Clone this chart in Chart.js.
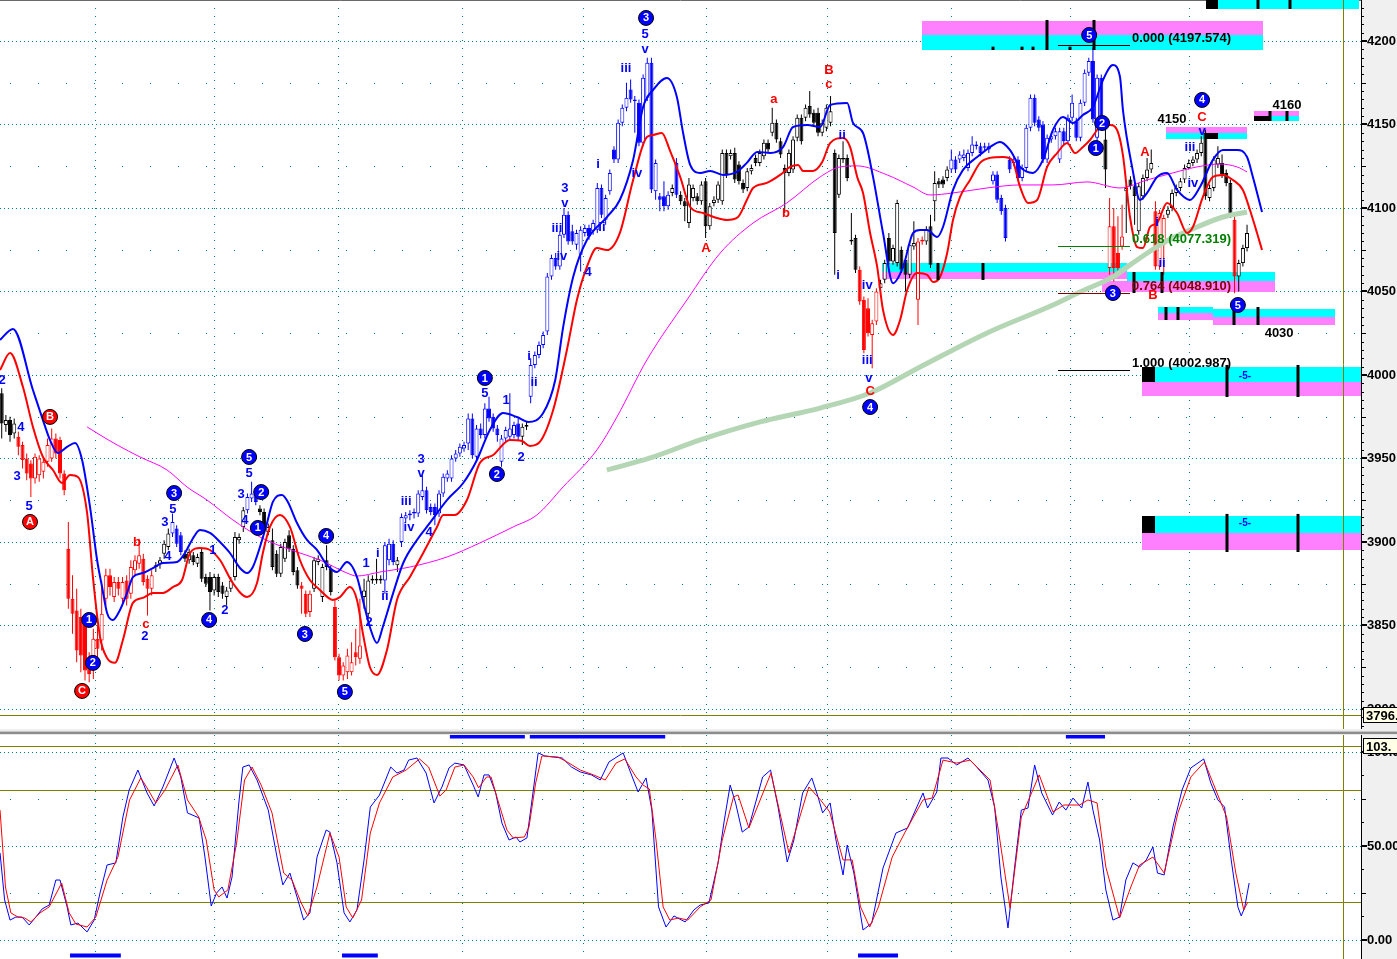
<!DOCTYPE html>
<html>
<head>
<meta charset="utf-8">
<script src="https://cdn.jsdelivr.net/npm/chart.js@4.4.0/dist/chart.umd.min.js"></script>
<style>
  html, body { margin: 0; padding: 0; background: #fff; overflow: hidden; }
  #wrap { position: relative; width: 1397px; height: 959px; }
  #priceCanvas { position: absolute; left: 0; top: 0; }
  #sep { position: absolute; left: 0; top: 729px; width: 1397px; height: 6px; background: linear-gradient(#f4f4f4, #e4e4e4 40%, #8c8c8c 45%, #8c8c8c 75%, #d8d8d8 80%, #f4f4f4); }
  #stochCanvas { position: absolute; left: 0; top: 735px; }
</style>
</head>
<body>
<div id="wrap">
  <canvas id="priceCanvas" width="1397" height="729"></canvas>
  <div id="sep"></div>
  <canvas id="stochCanvas" width="1397" height="224"></canvas>
</div>
<script>
// ---- candles (one per bar) ----
const opens = [
  3989,3970,3973,3965,3963,3958,3950,3947,3938,3940, 3942,3948,3950,3962,3961,3941,3896,3866,3859,3855,
  3853,3830,3823,3842,3841,3866,3880,3867,3876,3866, 3877,3869,3883,3887,3890,3878,3872,3885,3887,3893,
  3897,3905,3908,3904,3893,3889,3892,3887,3894,3879, 3879,3871,3879,3874,3867,3872,3879,3901,3909,3919,
  3926,3929,3920,3918,3906,3901,3893,3881,3890,3904, 3896,3883,3874,3869,3858,3872,3888,3867,3889,3884,
  3861,3831,3820,3822,3822,3834,3830,3867,3857,3878, 3878,3878,3877,3889,3899,3886,3900,3914,3916,3917,
  3917,3927,3931,3921,3921,3917,3929,3938,3938,3950, 3953,3956,3959,3974,3951,3968,3964,3980,3975,3968,
  3948,3962,3963,3964,3971,3963,3969,3987,4006,4012, 4018,4026,4059,4070,4065,4084,4096,4086,4078,4072,
  4085,4088,4086,4087,4112,4093,4110,4135,4129,4151, 4160,4171,4164,4163,4139,4166,4187,4110,4107,4107,
  4101,4109,4127,4108,4104,4091,4106,4107,4104,4116, 4089,4103,4105,4104,4133,4131,4133,4126,4115,4112,
  4122,4130,4127,4131,4139,4145,4151,4140,4124,4121, 4123,4142,4154,4154,4161,4157,4157,4145,4148,4151,
  4133,4108,4129,4130,4080,4082,4063,4045,4040,4024, 4032,4052,4057,4082,4068,4067,4075,4069,4060,4077,
  4045,4080,4080,4089,4104,4116,4117,4118,4123,4129, 4129,4130,4124,4133,4137,4137,4136,4137,4116,4120,
  4106,4100,4129,4127,4129,4118,4124,4148,4166,4153, 4150,4129,4141,4143,4129,4146,4140,4154,4152,4142,
  4163,4181,4188,4142,4178,4141,4064,4089,4073,4077, 4110,4117,4113,4086,4107,4118,4123,4098,4065,4078,
  4096,4100,4109,4112,4117,4124,4127,4129,4133,4145, 4106,4112,4126,4127,4121,4115,4093,4059,4067,4076
];
const highs = [
  3992,3976,3975,3974,3966,3960,3953,3949,3953,3952, 3950,3962,3968,3965,3963,3943,3912,3880,3872,3860,
  3856,3834,3848,3850,3877,3884,3884,3879,3879,3879, 3880,3889,3892,3902,3893,3880,3883,3888,3891,3901,
  3908,3917,3910,3906,3895,3896,3894,3893,3896,3881, 3882,3881,3881,3876,3873,3879,3906,3905,3921,3929,
  3936,3931,3922,3920,3911,3908,3895,3899,3902,3907, 3898,3885,3876,3871,3871,3891,3892,3887,3898,3886,
  3866,3833,3828,3836,3840,3848,3866,3878,3880,3880, 3890,3880,3900,3902,3901,3891,3917,3918,3919,3920,
  3931,3940,3933,3923,3923,3931,3941,3943,3952,3955, 3959,3960,3977,3977,3970,3971,3983,3987,3977,3970,
  3964,3969,3989,3972,3974,3971,3972,4010,4014,4020, 4026,4061,4072,4073,4086,4100,4098,4090,4087,4089,
  4090,4090,4093,4115,4114,4108,4123,4137,4153,4162, 4175,4177,4167,4165,4180,4190,4190,4129,4109,4116,
  4110,4114,4130,4110,4106,4118,4114,4109,4116,4118, 4103,4107,4116,4135,4135,4135,4136,4128,4117,4124,
  4126,4132,4135,4141,4141,4160,4153,4142,4126,4135, 4143,4156,4156,4162,4170,4159,4160,4153,4162,4167,
  4135,4132,4140,4132,4097,4084,4065,4047,4046,4033, 4052,4057,4069,4085,4078,4105,4077,4071,4080,4092,
  4082,4083,4089,4096,4122,4118,4119,4125,4135,4131, 4134,4135,4135,4143,4140,4139,4139,4139,4122,4122,
  4108,4102,4131,4131,4131,4126,4150,4168,4168,4155, 4152,4144,4145,4148,4148,4148,4156,4168,4154,4165,
  4183,4190,4196,4180,4180,4150,4106,4100,4095,4102, 4114,4119,4115,4115,4120,4130,4135,4104,4099,4096,
  4101,4111,4114,4118,4126,4129,4131,4135,4143,4147, 4114,4131,4137,4132,4123,4117,4095,4069,4078,4090
];
const lows = [
  3962,3966,3960,3962,3952,3944,3937,3927,3935,3936, 3938,3945,3948,3950,3938,3928,3860,3845,3828,3822,
  3817,3816,3818,3830,3835,3862,3868,3864,3868,3862, 3862,3866,3880,3884,3874,3856,3868,3882,3884,3890,
  3895,3903,3897,3892,3888,3887,3886,3885,3876,3873, 3859,3868,3867,3866,3862,3870,3877,3899,3906,3917,
  3924,3922,3916,3905,3904,3883,3879,3879,3888,3894, 3880,3872,3857,3855,3855,3870,3886,3864,3883,3868,
  3829,3817,3817,3818,3820,3826,3827,3860,3855,3875, 3875,3875,3869,3886,3886,3882,3897,3912,3913,3914,
  3915,3925,3917,3916,3910,3915,3927,3936,3936,3948, 3951,3954,3955,3950,3948,3962,3962,3972,3966,3960,
  3945,3960,3961,3962,3961,3958,3967,3983,4004,4010, 4016,4024,4057,4063,4063,4082,4078,4078,4075,4062,
  4083,4081,4084,4085,4094,4090,4108,4127,4127,4149, 4158,4163,4145,4137,4137,4164,4109,4105,4098,4098,
  4099,4107,4106,4102,4092,4088,4104,4102,4102,4082, 4087,4101,4103,4102,4118,4129,4115,4114,4109,4110,
  4120,4125,4125,4129,4133,4143,4139,4130,4097,4119, 4121,4140,4138,4152,4154,4149,4143,4143,4146,4149,
  4060,4106,4127,4116,4078,4061,4042,4013,4023,4004, 4030,4050,4055,4066,4066,4065,4061,4050,4058,4075,
  4030,4078,4078,4064,4092,4112,4112,4116,4121,4121, 4127,4128,4122,4131,4135,4131,4134,4133,4114,4103,
  4096,4080,4121,4125,4116,4116,4122,4146,4149,4146, 4127,4127,4139,4141,4127,4138,4138,4152,4140,4140,
  4161,4179,4151,4140,4149,4112,4060,4056,4062,4075, 4085,4111,4090,4084,4105,4116,4121,4063,4063,4060,
  4094,4098,4107,4110,4115,4123,4125,4127,4131,4105, 4104,4110,4124,4118,4113,4094,4049,4050,4065,4074
];
const closes = [
  3971,3973,3964,3971,3957,3949,3941,3938,3951,3950, 3948,3958,3962,3953,3941,3931,3866,3857,3835,3832,
  3823,3821,3842,3836,3857,3880,3873,3876,3872,3876, 3866,3885,3889,3892,3876,3872,3880,3886,3889,3899,
  3905,3912,3899,3894,3890,3894,3888,3891,3878,3875, 3870,3879,3870,3869,3871,3877,3903,3903,3919,3927,
  3929,3924,3918,3907,3909,3885,3881,3897,3900,3896, 3882,3874,3872,3857,3869,3889,3890,3885,3885,3870,
  3831,3820,3826,3832,3828,3831,3838,3871,3877,3877, 3877,3877,3898,3899,3888,3889,3915,3916,3917,3918,
  3929,3931,3919,3918,3916,3929,3939,3941,3950,3953, 3957,3958,3974,3952,3968,3964,3980,3974,3968,3964,
  3962,3967,3968,3970,3963,3969,3970,4006,4012,4018, 4024,4059,4070,4065,4084,4096,4080,4080,4085,4087,
  4088,4083,4091,4112,4096,4106,4121,4129,4151,4160, 4166,4165,4165,4139,4178,4187,4111,4127,4105,4101,
  4108,4112,4108,4104,4101,4114,4112,4104,4114,4089, 4101,4105,4114,4133,4120,4133,4117,4116,4111,4122,
  4124,4127,4133,4139,4135,4151,4141,4132,4121,4133, 4141,4154,4140,4160,4156,4151,4145,4151,4160,4158,
  4085,4130,4130,4118,4081,4063,4044,4015,4025,4031, 4050,4055,4067,4068,4076,4103,4063,4060,4078,4079,
  4080,4081,4087,4066,4115,4114,4114,4123,4129,4123, 4132,4132,4133,4138,4138,4133,4137,4135,4120,4105,
  4098,4082,4123,4129,4118,4124,4148,4166,4151,4148, 4129,4142,4143,4146,4146,4140,4154,4163,4142,4163,
  4181,4188,4153,4178,4151,4123,4089,4064,4064,4083, 4112,4113,4107,4113,4118,4123,4127,4065,4097,4094,
  4099,4109,4112,4116,4124,4127,4129,4133,4139,4107, 4112,4129,4130,4120,4115,4096,4059,4067,4076,4085
];
// k = black/white, b = blue, r = red
const tones = (
  'kkkkrrrrrr' + 'rrrrrrrrrr' + 'rrrrrrrrrr' + 'rrrrrrrkkk' + 'kbbbkkkkkk' +
  'kkkkkkkkkb' + 'bbkkkkkkkk' + 'kkrrrkkkkk' + 'rrrrrrrkkk' + 'kkbbbkbbbb' +
  'bbbbbbbbbb' + 'bbbbbbbbbb' + 'bbbbbkkbbb' + 'bbbbbbbbbb' + 'bbbbbbbbbb' +
  'bbbbbbbbbb' + 'bkbkkkkkkk' + 'kkkkkkkkkk' + 'kkkkkkkkkk' + 'kkkkkkkkkk' +
  'kkkkkkrrrr' + 'rkkkkkkkkk' + 'rrkkkkkkbb' + 'bbbbbbbbbb' + 'bbbbbbbbbb' +
  'bbbbbbbbbb' + 'bbbbbkrrrr' + 'kkkkkkkrrr' + 'kkkkkkkkkk' + 'kkkkkkrkkk'
).split('');

// ---- overlay lines: [bar index, price] ----
const upperBand = [[-0.4,4021],[2.7,4027.6],[7.5,3991],[9.9,3973],[11.6,3961],[13.5,3953.3],[15.7,3956.9],[17.6,3959.3],[19.3,3949.1],[21.2,3921],[22.9,3889.2],[24.1,3873],[25.3,3857.5],[26.7,3853.3],[28.4,3859.3],[30.1,3869.5],[31.5,3879],[33.9,3881.4],[36.3,3884.4],[38.7,3887.4],[42.1,3888],[44,3893.4],[45.7,3901.2],[47.6,3907.2],[50,3905.4],[52.4,3900],[54.8,3893.4],[57.2,3884.4],[58.9,3881.4],[60.3,3885],[62,3897],[63.7,3911.4],[65.1,3924],[67.3,3928.2],[68.7,3924],[70.9,3911.4],[73.3,3901.2],[75.7,3895.2],[78.1,3886.2],[80.5,3882],[82.9,3888],[85.3,3879],[86.7,3865.3],[88.4,3849.1],[90.1,3839.5],[91.5,3849.1],[94,3869.5],[96.4,3887.4],[99.7,3901.2],[102.8,3911.4],[106.9,3925.1],[110.8,3935.3],[114.1,3949.1],[117.2,3967.1],[120.4,3977.2],[123.7,3974.8],[126.4,3971.9],[130,3977.2],[132.9,3997],[134.8,4028.7],[137.2,4058.7],[140.5,4080.8],[145.3,4094.6],[148.4,4104.8],[151.6,4128.8],[154,4160.5],[156.4,4170.7],[159.7,4177.8],[162.1,4166.5],[163.6,4144.9],[165.3,4125.8],[167.7,4121],[170.1,4122.2],[173.2,4119.8],[176.5,4121.6],[178.9,4127],[181.4,4133.6],[184.5,4133],[187.6,4136.5],[190,4148.5],[193.4,4149.7],[196.5,4148.5],[198.9,4161.7],[203,4162.9],[204.4,4150.9],[206.8,4144.9],[209.2,4118.6],[211.6,4085],[214,4055],[216.4,4064.6],[218.8,4085],[220.5,4086.8],[222.2,4086.8],[224.6,4082.6],[226,4088.6],[228.4,4110.8],[230.8,4122.8],[234.2,4130.5],[237.3,4136.5],[239.7,4139.5],[242.1,4134.7],[244.5,4124.6],[247.6,4121],[250,4128.8],[252.4,4146.7],[254.8,4154.5],[257.2,4150.9],[259.6,4155.7],[262,4160.5],[264.4,4176.6],[266.8,4185.6],[268.5,4178.4],[269.2,4158.7],[271.4,4124.6],[273.3,4104.8],[275,4109],[277.4,4118.6],[279.8,4121],[282.2,4110.8],[285.3,4104.8],[287.7,4112.6],[290.8,4128.8],[293.2,4134.7],[296.6,4134.7],[299,4130.5],[300.4,4118.6],[302.6,4097.6]];
const lowerBand = [[-0.4,4003],[2,4013.2],[5.1,3992.8],[7.5,3968.9],[9.9,3950.9],[12.3,3943.1],[14.5,3935.3],[16.4,3940.1],[18.3,3938.9],[20.5,3917.4],[21.9,3879],[23.6,3843.1],[25.3,3830.5],[27.2,3827.6],[29.1,3841.3],[31.5,3863.5],[33.9,3866.5],[36.3,3869.5],[38.7,3869.5],[41.1,3873],[43.3,3877.2],[45.2,3893.4],[47.6,3896.4],[50,3895.2],[52.4,3889.2],[55.5,3875.4],[58.9,3867],[61.3,3875.4],[62.7,3893.4],[64.4,3909],[66.8,3916.2],[69.2,3909],[71.6,3889.2],[74,3877.2],[76.4,3871.3],[79.5,3865.3],[81.2,3867],[83.6,3873],[85.3,3865.3],[86.7,3845.5],[88.4,3825.1],[90.1,3820.4],[92.5,3835.3],[94.9,3865.3],[98,3879],[101.2,3893.4],[104.5,3909],[106,3916.2],[108.8,3916.2],[111.7,3925.1],[114.8,3947.3],[118,3952.1],[122,3961.1],[124.9,3960.5],[126.8,3957.5],[129.2,3959.9],[132.4,3979],[135.7,4015],[138.1,4044.9],[140.5,4064.7],[142.9,4076],[145.3,4074.8],[148.4,4085],[151.6,4116.8],[154.9,4142.5],[156.4,4143.7],[158.5,4144.9],[160.4,4134.7],[162.9,4118.6],[165.3,4100.6],[168.4,4097],[171.7,4094],[174.1,4092.8],[176.8,4094.6],[178.9,4104.8],[180.4,4112],[183.7,4115],[186.9,4119.8],[189.3,4124.6],[191.2,4125.8],[192.4,4122.2],[194.8,4122.2],[197,4127.5],[198.9,4138.9],[202,4141.9],[203.7,4136.5],[205.4,4118.6],[206.8,4109],[208.5,4085],[210.2,4064.7],[211.6,4038.9],[214,4024],[215.7,4032.9],[217.4,4050.9],[219.8,4061.1],[222.2,4059.9],[223.6,4055.7],[225.3,4058.7],[227,4073],[228.4,4092.8],[230.1,4106.6],[232.5,4116.8],[234.9,4127],[237.3,4130],[240.4,4130.6],[242.6,4128.8],[244.5,4112.6],[246.4,4103],[248.6,4104.8],[251,4124.6],[253.4,4132.9],[255.8,4138.9],[257.7,4132.9],[259.6,4136.5],[261.3,4140.7],[263.7,4148.5],[266.1,4149.7],[267.8,4146.7],[269.2,4131.7],[270.9,4094.6],[272.6,4076.6],[274,4076],[275.7,4088.6],[277.4,4091],[279.8,4103],[282.2,4097],[284.6,4085],[286,4088.6],[288.4,4106.6],[290.8,4118.6],[293.2,4119.8],[295.6,4116.8],[298,4110.8],[299.7,4098.8],[301.4,4085],[302.6,4074.8]];
const magentaAvg = [[20.5,3968.9],[23.6,3964.1],[27.7,3958.1],[33.2,3950.9],[39.7,3943.1],[44.5,3932.9],[49.3,3925.1],[55.5,3913.2],[62,3903],[67.5,3897],[71.6,3893.4],[76.4,3889.2],[82.9,3881.4],[85.3,3879.6],[90.8,3882],[98,3885],[106.9,3891],[114.8,3899.4],[122.8,3909],[128.5,3916.2],[134.8,3933],[142.9,3955.1],[147.7,3974.8],[154.9,4009],[164.5,4044.9],[172.5,4073],[180.4,4091],[188.5,4103],[196.5,4118.6],[201.3,4124.6],[205.4,4125.2],[212.6,4119.8],[218.8,4112.6],[222.9,4107.8],[228.4,4109],[236.6,4112],[244.5,4113.8],[252.4,4113.8],[260.6,4115.6],[268.5,4112],[275,4116.8],[281.2,4121],[287,4124.6],[292.5,4126.3],[296.6,4124.6],[299,4121.6]];
const greenAvg = [[145.3,3943.1],[155.7,3950.3],[167.7,3961.1],[182.1,3971.9],[196.5,3980.2],[208.5,3989.2],[220.5,4004.8],[236.6,4025.2],[252.4,4041.9],[258.9,4049.7],[266.8,4058.7],[270.9,4065.9],[278.8,4079],[287,4088.6],[293.2,4094.6],[299,4097.6]];

// ---- stochastic: [bar index, value] ----
const stochK = [[-0.4,46.3],[0.7,21.3],[2.0,10.6],[3.4,12.2],[4.9,12.2],[6.6,8],[8.2,12.2],[9.7,16.5],[11.4,18.6],[13.0,31.9],[14.0,31.9],[15.7,17.6],[16.6,8],[18.3,9],[20.5,4.3],[22.2,10.6],[23.6,25],[25.3,39.9],[27.4,41],[29.1,65.4],[30.6,79.8],[32.7,90.4],[34.9,78.2],[36.6,71.3],[38.7,81.4],[41.4,96.8],[43.0,86.7],[44.6,67.6],[47.4,64.9],[48.8,44.1],[50.3,18.1],[51.6,25],[52.9,28.2],[54.1,22.3],[55.3,33.5],[57.0,74.5],[57.9,92],[59.4,93.1],[61.3,85.1],[64.0,69.1],[66.1,44.1],[67.5,29.3],[69.2,35.6],[70.9,22.9],[72.5,10.6],[74.0,14.4],[75.7,44.1],[77.9,58.5],[78.8,57.4],[80.5,41],[82.2,14.4],[83.6,9.6],[85.3,16],[87.0,42.6],[88.5,70.7],[90.7,77.1],[93.4,92],[94.9,88.8],[96.6,90.4],[97.7,95.7],[99.7,96.8],[101.9,88.8],[103.8,72.9],[105.7,81.4],[107.4,91.5],[108.8,94.1],[111.0,93.1],[113.2,82.4],[114.4,76.1],[115.8,87.8],[117.0,87.8],[118.6,78.2],[120.1,62.2],[121.8,53.2],[123.5,54.8],[124.4,52.1],[126.1,54.3],[127.1,70.7],[128.8,99.5],[130.4,97.9],[132.5,97.3],[134.6,96.8],[136.8,92],[138.9,89.4],[141.6,87.8],[143.7,85.1],[145.8,94.7],[149.2,99.5],[151.4,86.7],[152.8,78.7],[154.7,86.2],[156.1,69.1],[157.7,17.6],[159.5,6.9],[161.4,12.8],[164.1,9.6],[166.2,16],[167.7,18.6],[169.8,19.7],[172.0,41],[173.5,63.8],[174.9,82.4],[176.2,72.9],[177.8,57.4],[179.4,60.1],[182.7,86.7],[184.6,90.4],[186.4,70.7],[188.6,41.5],[190.2,53.2],[192.3,78.2],[194.5,86.2],[196.0,76.1],[197.1,67.6],[198.9,72.9],[200.3,53.2],[202.0,34.6],[203.0,50.5],[204.6,35.6],[206.8,5.3],[208.9,9],[211.6,38.3],[214.7,56.9],[217.5,59.6],[221.2,78.2],[222.3,70.2],[224.5,78.7],[225.5,96.8],[227.2,96.8],[229.3,93.1],[232.0,96.8],[234.1,92],[236.8,85.1],[238.4,70.7],[239.9,33.5],[241.6,6.4],[243.2,38.8],[244.8,69.1],[246.4,70.2],[248.0,93.1],[249.7,78.2],[252.3,66.5],[253.9,73.4],[255.5,69.1],[257.2,75.5],[259.3,70.2],[260.8,84],[262.0,69.1],[263.6,53.2],[265.1,26.6],[266.8,10.6],[268.4,12.2],[269.9,31.9],[271.6,41],[273.2,38.8],[274.8,42.6],[276.4,49.5],[277.5,35.6],[279.1,34.6],[281.2,60.1],[283.4,79.8],[285.5,91.5],[288.6,96.3],[290.3,83.5],[292.0,74.5],[293.6,70.7],[295.2,42.6],[296.8,17.6],[297.6,12.8],[298.4,17],[299.5,30.3]];
const stochD = [[-0.4,69.1],[0.9,28.2],[2.2,14.4],[3.9,12.2],[5.5,11.7],[7.0,9.6],[9.2,14.4],[11.4,17.6],[14.4,30.3],[16.2,14.4],[17.8,8.5],[20.5,6.9],[22.6,12.2],[25.3,31.9],[27.9,44.1],[30.7,74.5],[33.4,86.2],[34.9,80.9],[37.0,72.9],[39.2,79.8],[42.3,93.1],[44.6,74.5],[47.3,65.4],[49.1,53.2],[51.0,26.6],[52.1,22.9],[54.3,26.6],[56.4,51.6],[58.3,85.1],[60.1,92],[62.3,82.4],[64.9,67.6],[67.7,35.6],[69.7,31.9],[71.9,19.7],[73.5,12.8],[75.7,28.2],[78.8,56.9],[81.0,44.1],[82.7,17.6],[84.3,11.7],[86.4,21.3],[88.5,56.9],[90.7,72.9],[93.9,86.7],[97.1,90.4],[100.3,96.3],[102.5,92],[105.2,76.6],[106.7,79.8],[108.8,92],[111.0,93.1],[113.2,86.7],[114.5,80.9],[116.4,86.7],[117.5,86.7],[119.1,74.5],[121.3,58.5],[122.8,54.3],[125.5,54.8],[126.6,60.1],[128.2,83.5],[129.7,97.9],[133.6,97.3],[136.2,94.1],[138.9,90.4],[142.1,87.8],[144.9,85.1],[147.5,94.1],[149.6,96.3],[152.3,86.7],[154.0,82.4],[155.5,80.3],[157.1,53.2],[158.8,17.6],[160.4,10.6],[162.5,11.7],[164.7,10.6],[167.7,17.6],[170.3,21.3],[173.0,53.2],[175.7,76.1],[176.8,77.1],[179.4,59.6],[184.7,88.8],[189.0,46.3],[193.8,81.4],[196.6,74.5],[198.8,68.1],[202.0,42.6],[204.2,42.6],[206.2,17.6],[208.4,6.9],[210.5,17.6],[213.8,44.1],[216.9,57.4],[221.2,74.5],[223.4,75.5],[226.0,95.7],[229.3,94.1],[232.5,95.7],[237.3,85.1],[239.4,56.9],[242.1,17],[244.8,65.4],[249.1,87.8],[252.4,68.1],[255.0,71.8],[258.8,71.8],[260.8,74.5],[263.0,72.9],[265.1,38.8],[268.4,11.7],[271.1,28.2],[273.2,39.9],[276.4,44.1],[279.1,35.6],[282.4,67.6],[285.5,86.7],[288.8,94.7],[291.5,79.8],[294.1,65.4],[296.3,35.6],[298.2,16],[299.2,20.2]];
// signal strips in the lower panel: [from index, to index]
const topSignals = [[107.6,125.6],[126.8,159.3],[255.5,264.9]];
const bottomSignals = [[16.4,28.6],[81.7,90.3],[205.6,215.2]];

// ---- annotations ----
const dayLines = [22.4,51.0,80.7,110.5,139.6,169.1,198.2,227.9,256.5,285.1];
const dotStart = 2.0, dotStep = 6.72;
const waveCircles = [
  [21.0,3853.3,'1','b'],[21.9,3827.6,'2','b'],[41.4,3929.3,'3','b'],[49.8,3853.3,'4','b'],[59.4,3950.9,'5','b'],
  [62.3,3929.9,'2','b'],[61.5,3908.4,'1','b'],[77.9,3903.6,'4','b'],[72.8,3844.9,'3','b'],[82.4,3810.2,'5','b'],
  [116.0,3998.2,'1','b'],[118.9,3940.7,'2','b'],[154.7,4213.8,'3','b'],[208.5,3980.8,'4','b'],
  [261.1,4203.6,'5','b'],[264.2,4150.9,'2','b'],[262.7,4135.9,'1','b'],[266.8,4049.1,'3','b'],[288.2,4164.7,'4','b'],[296.8,4041.9,'5','b'],
  [11.6,3974.9,'B','r'],[6.8,3912,'A','r'],[19.3,3810.8,'C','r']
];
const waveLabels = [
  [0.07,3997,'2','b'],[4.6,3968.3,'4','b'],[3.7,3939.5,'3','b'],[6.6,3921.5,'5','b'],
  [39.2,3912,'3','b'],[41.1,3919.2,'5','b'],[39.9,3891.6,'4','b'],[34.4,3843.7,'2','b'],
  [50.7,3895.2,'1','b'],[53.6,3859.3,'2','b'],[57.5,3928.7,'3','b'],[59.4,3941.3,'5','b'],[58.4,3913.2,'4','b'],
  [87.5,3887.4,'1','b'],[90.3,3893.4,'i','b'],[88.2,3852.1,'2','b'],[92.0,3867.1,'ii','b'],
  [97.1,3924,'iii','b'],[97.8,3909,'iv','b'],[100.7,3949.7,'3','b'],[100.7,3941.3,'v','b'],[102.6,3906,'4','b'],
  [116.0,3989.2,'5','b'],[121.1,3985,'1','b'],[124.7,3950.9,'2','b'],[126.6,4011.4,'i','b'],[127.8,3995.8,'ii','b'],
  [135.2,4112,'3','b'],[135.2,4103,'v','b'],[133.3,4088,'iii','b'],[134.5,4070.7,'iv','b'],[140.8,4061.7,'4','b'],
  [144.1,4088.6,'ii','b'],[143.2,4126.3,'i','b'],[149.9,4183.8,'iii','b'],[154.5,4204.2,'5','b'],[154.5,4195.2,'v','b'],[152.5,4120.9,'iv','b'],
  [201.8,4143.7,'ii','b'],[200.8,4059.9,'i','b'],[207.8,4053.9,'iv','b'],[207.8,4009,'iii','b'],[208.2,3998.2,'v','b'],
  [285.3,4136.5,'iii','b'],[288.2,4146.1,'v','b'],[286.0,4115,'iv','b'],[277.4,4091.6,'i','b'],[278.6,4067.1,'ii','b'],
  [32.5,3900,'b','r'],[34.6,3850.9,'c','r'],[169.1,4076,'A','r'],[185.4,4165.3,'a','r'],[188.3,4097,'b','r'],
  [198.6,4182.6,'B','r'],[198.6,4174.2,'c','r'],[208.5,3990.4,'C','r'],[274.5,4133.5,'A','r'],[288.2,4154.5,'C','r'],[276.4,4047.9,'B','r'],
  [281.0,4153.3,'4150','k'],[308.6,4161.7,'4160','k'],[306.7,4025.1,'4030','k']
];
const fibRatios = ['0.000','0.618','0.764','1.000'];
const fibLevels = [4197.574, 4077.319, 4048.910, 4002.987];
const fibColors = ['#000000','#008000','#800000','#000000'];
const fibSpan = [253.6, 270.9];
// [from idx, to idx, top price, bottom price, colour]
const zoneBoxes = [
  [220.9,302.8,4212.0,4203.6,'#ff80ff'],[220.9,302.8,4203.6,4194.6,'#00ffff'],
  [292.0,325.8,4224.6,4219.2,'#00ffff'],[289.2,292.0,4224.6,4219.2,'#000000'],
  [300.7,311.5,4158.1,4155.1,'#ff80ff'],[300.7,311.5,4155.1,4152.1,'#00ffff'],[300.7,304.2,4155.1,4152.1,'#000000'],
  [279.5,299.0,4148.5,4144.9,'#ff80ff'],[279.5,299.0,4144.9,4141.3,'#00ffff'],[289.2,292.0,4144.9,4141.3,'#000000'],
  [211.4,270.2,4067.1,4061.7,'#00ffff'],[211.4,270.2,4061.7,4057.5,'#ff80ff'],
  [270.2,305.7,4061.7,4056.3,'#00ffff'],[264.2,305.7,4056.3,4049.7,'#ff80ff'],
  [277.6,290.8,4040.7,4037.1,'#00ffff'],[277.6,290.8,4037.1,4032.9,'#ff80ff'],
  [290.8,320.1,4039.5,4034.7,'#00ffff'],[290.8,320.1,4034.7,4029.9,'#ff80ff'],
  [276.9,326.4,4004.8,3995.8,'#00ffff'],[273.8,326.4,3995.8,3987.4,'#ff80ff'],[273.8,276.9,4004.8,3995.8,'#000000'],
  [276.9,326.4,3915.6,3905.4,'#00ffff'],[273.8,326.4,3905.4,3895.2,'#ff80ff'],[273.8,276.9,3915.6,3905.4,'#000000']
];
// [idx, top price, bottom price]
const zoneTicks = [
  [251.0,4212.6,4194.6],[262.3,4212.6,4194.6],[238.0,4196.6,4194.6],[245.0,4196.6,4194.6],[247.6,4196.6,4194.6],[256.5,4196.6,4194.6],
  [301.6,4224.6,4219.2],[309.3,4224.6,4219.2],
  [304.5,4158.1,4152.1],[308.6,4158.1,4152.1],
  [224.8,4067.1,4056.9],[235.6,4067.1,4056.9],
  [271.9,4061.7,4049.1],[278.6,4061.7,4049.1],
  [279.5,4040.7,4032.9],[282.4,4040.7,4032.9],[295.9,4040.7,4029.9],[301.6,4040.7,4029.9],
  [294.2,4006,3986.8],[311.2,4006,3986.8],
  [294.2,3916.8,3894],[311.2,3916.8,3894]
];
const fiveMarks = [[298.5,3999.4],[298.5,3911.4]];
const cursorIndex = 322.0, cursorPrice = 3796.4, cursorStoch = 103.2;

// ---- drawing ----
const X_MIN = -0.41, X_MAX = 326.36;
const teal = '#008080', olive = '#808000';
const toneColor = { k: '#000000', b: '#0000ff', r: '#ff0000' };
const FONT = '"Liberation Sans", Arial, sans-serif';
const toXY = arr => arr.map(([x, y]) => ({ x, y }));

function hLine(ctx, x0, x1, y, color, dash, w) {
  ctx.save(); ctx.strokeStyle = color; ctx.lineWidth = w || 1; ctx.setLineDash(dash || []);
  const yy = Math.round(y) + 0.5;
  ctx.beginPath(); ctx.moveTo(x0, yy); ctx.lineTo(x1, yy); ctx.stroke(); ctx.restore();
}
function vLine(ctx, x, y0, y1, color, dash, w) {
  ctx.save(); ctx.strokeStyle = color; ctx.lineWidth = w || 1; ctx.setLineDash(dash || []);
  const xx = Math.round(x) + 0.5;
  ctx.beginPath(); ctx.moveTo(xx, y0); ctx.lineTo(xx, y1); ctx.stroke(); ctx.restore();
}
function axisBg(chart) {
  const { ctx, chartArea: a, width, height } = chart;
  ctx.save(); ctx.fillStyle = '#f0f0f0'; ctx.fillRect(a.right, 0, width - a.right, height); ctx.restore();
}
function drawGrid(chart, majors, minors) {
  const { ctx, chartArea: a, scales: { x, y } } = chart;
  majors.forEach(v => hLine(ctx, a.left, a.right, y.getPixelForValue(v), teal, [1, 3]));
  dayLines.forEach(d => vLine(ctx, x.getPixelForValue(d), a.top, a.bottom, teal, [1, 7]));
  ctx.save(); ctx.fillStyle = teal;
  minors.forEach(v => {
    const py = Math.round(y.getPixelForValue(v));
    for (let i = dotStart; i < X_MAX; i += dotStep) ctx.fillRect(Math.round(x.getPixelForValue(i)), py, 1, 1);
  });
  ctx.restore();
}
// tick marks on the value axis: long at majors, medium at halves, short between
function axisTicks(chart, step, mid, major) {
  const { ctx, chartArea: a, scales: { y } } = chart;
  ctx.save(); ctx.fillStyle = '#000';
  for (let v = Math.ceil(y.min / step) * step; v <= y.max; v += step) {
    const r = Math.round(v * 100) / 100;
    const py = Math.round(y.getPixelForValue(r));
    if (Math.abs(r % major) < 1e-6) ctx.fillRect(a.right + 1, py - 1, 5, 2);
    else if (Math.abs(r % mid) < 1e-6) ctx.fillRect(a.right + 1, py, 4, 1);
    else ctx.fillRect(a.right + 1, py, 2, 1);
  }
  ctx.restore();
}
function axisBox(chart, value, text) {
  const { ctx, chartArea: a, scales: { y } } = chart;
  const py = Math.round(y.getPixelForValue(value));
  ctx.save();
  ctx.fillStyle = '#ffffe8'; ctx.fillRect(a.right + 2, py - 8, 40, 16);
  ctx.strokeStyle = '#000'; ctx.lineWidth = 1; ctx.strokeRect(a.right + 2.5, py - 7.5, 40, 15);
  ctx.fillStyle = '#000'; ctx.font = 'bold 13px ' + FONT; ctx.textAlign = 'left'; ctx.textBaseline = 'middle';
  ctx.fillText(text, a.right + 5, py + 1);
  ctx.restore();
}

const priceDecor = {
  id: 'priceDecor',
  beforeDraw(chart) { axisBg(chart); },
  beforeDatasetsDraw(chart) {
    const { ctx, chartArea: a, scales: { x, y } } = chart;
    const majors = [], minors = [];
    for (let v = 3800; v <= 4200; v += 50) majors.push(v);
    for (let v = 3825; v <= 4200; v += 50) minors.push(v);
    drawGrid(chart, majors, minors);
    hLine(ctx, a.left, a.right, a.top, '#6a6a6a');
    ctx.save();
    ctx.beginPath(); ctx.rect(a.left, a.top, a.right - a.left, a.bottom - a.top); ctx.clip();
    zoneBoxes.forEach(([x0, x1, p0, p1, c]) => {
      const l = Math.round(x.getPixelForValue(x0)), r = Math.round(x.getPixelForValue(x1));
      const t = Math.round(y.getPixelForValue(p0)), b = Math.round(y.getPixelForValue(p1));
      ctx.fillStyle = c; ctx.fillRect(l, t, r - l, b - t);
    });
    ctx.restore();
  },
  afterDatasetsDraw(chart) {
    const { ctx, chartArea: a, scales: { x, y } } = chart;
    ctx.save();
    ctx.beginPath(); ctx.rect(a.left, a.top, a.right - a.left, a.bottom - a.top); ctx.clip();
    ctx.strokeStyle = '#000'; ctx.lineWidth = 3;
    zoneTicks.forEach(([i, p0, p1]) => {
      const px = Math.round(x.getPixelForValue(i));
      ctx.beginPath(); ctx.moveTo(px, y.getPixelForValue(p0)); ctx.lineTo(px, y.getPixelForValue(p1)); ctx.stroke();
    });
    fibLevels.forEach((lv, k) => {
      hLine(ctx, x.getPixelForValue(fibSpan[0]), x.getPixelForValue(fibSpan[1]), y.getPixelForValue(lv), fibColors[k]);
      ctx.fillStyle = fibColors[k]; ctx.font = 'bold 13px ' + FONT; ctx.textAlign = 'left'; ctx.textBaseline = 'alphabetic';
      ctx.fillText(fibRatios[k] + ' (' + lv.toFixed(3) + ')', x.getPixelForValue(fibSpan[1]) + 2, y.getPixelForValue(lv) - 3);
    });
    ctx.textAlign = 'center'; ctx.textBaseline = 'middle';
    waveLabels.forEach(([i, p, t, s]) => {
      ctx.fillStyle = toneColor[s]; ctx.font = 'bold 13px ' + FONT;
      ctx.fillText(t, x.getPixelForValue(i), y.getPixelForValue(p));
    });
    ctx.font = 'bold 10px ' + FONT; ctx.fillStyle = '#0000ff';
    fiveMarks.forEach(([i, p]) => ctx.fillText('-5-', x.getPixelForValue(i), y.getPixelForValue(p)));
    waveCircles.forEach(([i, p, t, s]) => {
      const cx = x.getPixelForValue(i), cy = y.getPixelForValue(p);
      ctx.beginPath(); ctx.arc(cx, cy, 7.5, 0, Math.PI * 2);
      ctx.fillStyle = s === 'r' ? '#ff0000' : '#0000ff'; ctx.fill();
      ctx.lineWidth = 1; ctx.strokeStyle = '#000000'; ctx.stroke();
      ctx.fillStyle = '#ffffff'; ctx.font = 'bold 11px ' + FONT; ctx.fillText(t, cx, cy + 0.5);
    });
    ctx.restore();
    hLine(ctx, a.left, a.right, y.getPixelForValue(cursorPrice), olive);
    vLine(ctx, x.getPixelForValue(cursorIndex), a.top, a.bottom, olive);
  },
  afterDraw(chart) {
    axisTicks(chart, 5, 25, 50);
    axisBox(chart, cursorPrice, '3796.');
  }
};

const stochDecor = {
  id: 'stochDecor',
  beforeDraw(chart) { axisBg(chart); },
  beforeDatasetsDraw(chart) {
    const { ctx, chartArea: a, scales: { y } } = chart;
    drawGrid(chart, [0, 50, 100], [25, 75]);
    hLine(ctx, a.left, a.right, y.getPixelForValue(80), olive);
    hLine(ctx, a.left, a.right, y.getPixelForValue(20), olive);
  },
  afterDatasetsDraw(chart) {
    const { ctx, chartArea: a, scales: { x, y } } = chart;
    hLine(ctx, a.left, a.right, y.getPixelForValue(cursorStoch), olive);
    vLine(ctx, x.getPixelForValue(cursorIndex), a.top, a.bottom, olive);
  },
  afterDraw(chart) {
    axisTicks(chart, 12.5, 25, 50);
    axisBox(chart, cursorStoch, '103.');
  }
};

const axisFont = { family: FONT, size: 13, weight: 'bold' };
function rightAxis(min, max, values, label) {
  return {
    type: 'linear', position: 'right', min, max,
    afterBuildTicks(s) { s.ticks = values.map(v => ({ value: v })); },
    afterFit(s) { s.width = 36; s.paddingTop = 0; s.paddingBottom = 0; },
    grid: { drawOnChartArea: false, drawTicks: false },
    border: { display: true, color: '#000' },
    ticks: { padding: 6, color: '#000', font: axisFont, autoSkip: false, maxRotation: 0, callback: label }
  };
}
const xAxis = { type: 'linear', min: X_MIN, max: X_MAX, display: false, offset: false, grid: { offset: false } };

const bars = opens.map((_, i) => i);
const pick = ctx => (ctx.dataIndex === undefined ? 0 : ctx.dataIndex);

Chart.defaults.font.family = FONT;

new Chart(document.getElementById('priceCanvas'), {
  type: 'bar',
  data: {
    datasets: [
      { type: 'line', data: toXY(upperBand), borderColor: '#0000ff', borderWidth: 2, pointRadius: 0, cubicInterpolationMode: 'monotone', order: 0 },
      { type: 'line', data: toXY(lowerBand), borderColor: '#ff0000', borderWidth: 2, pointRadius: 0, cubicInterpolationMode: 'monotone', order: 1 },
      { type: 'line', data: toXY(magentaAvg), borderColor: '#ff00ff', borderWidth: 1, pointRadius: 0, cubicInterpolationMode: 'monotone', order: 2 },
      { type: 'line', data: toXY(greenAvg), borderColor: '#b4d6b4', borderWidth: 5, pointRadius: 0, cubicInterpolationMode: 'monotone', order: 3 },
      {
        type: 'bar', data: bars.map(i => ({ x: i, y: [opens[i], closes[i]] })), order: 5,
        grouped: false, barThickness: 4, borderWidth: 1, borderSkipped: false, inflateAmount: 0,
        backgroundColor: ctx => { const i = pick(ctx); return closes[i] > opens[i] ? '#ffffff' : toneColor[tones[i]]; },
        borderColor: ctx => toneColor[tones[pick(ctx)]]
      },
      {
        type: 'bar', data: bars.map(i => ({ x: i, y: [lows[i], highs[i]] })), order: 6,
        grouped: false, barThickness: 1, borderWidth: 0, inflateAmount: 0,
        backgroundColor: ctx => toneColor[tones[pick(ctx)]]
      }
    ]
  },
  options: {
    responsive: false, animation: false, events: [],
    layout: { padding: 0 },
    plugins: { legend: { display: false }, tooltip: { enabled: false } },
    scales: {
      x: xAxis,
      y: rightAxis(3788.0, 4224.55, [3800, 3850, 3900, 3950, 4000, 4050, 4100, 4150, 4200], v => String(v))
    }
  },
  plugins: [priceDecor]
});

const signalSets = [];
topSignals.forEach(([a, b]) => signalSets.push({ data: [{ x: a, y: 108.2 }, { x: b, y: 108.2 }], borderColor: '#0000ff', borderWidth: 4, pointRadius: 0, borderCapStyle: 'butt', clip: false }));
bottomSignals.forEach(([a, b]) => signalSets.push({ data: [{ x: a, y: -8.2 }, { x: b, y: -8.2 }], borderColor: '#0000ff', borderWidth: 4, pointRadius: 0, borderCapStyle: 'butt' }));

new Chart(document.getElementById('stochCanvas'), {
  type: 'line',
  data: {
    datasets: [
      { data: toXY(stochD), borderColor: '#ff0000', borderWidth: 1, pointRadius: 0, tension: 0, order: 0 },
      { data: toXY(stochK), borderColor: '#0000ff', borderWidth: 1, pointRadius: 0, tension: 0, order: 1 },
      ...signalSets
    ]
  },
  options: {
    responsive: false, animation: false, events: [],
    layout: { padding: 0 },
    plugins: { legend: { display: false }, tooltip: { enabled: false } },
    scales: {
      x: xAxis,
      y: rightAxis(-10.11, 109.04, [0, 50, 100], v => (v === 50 ? '50.00' : v === 0 ? '0.00' : '100.0'))
    }
  },
  plugins: [stochDecor]
});
</script>
</body>
</html>
